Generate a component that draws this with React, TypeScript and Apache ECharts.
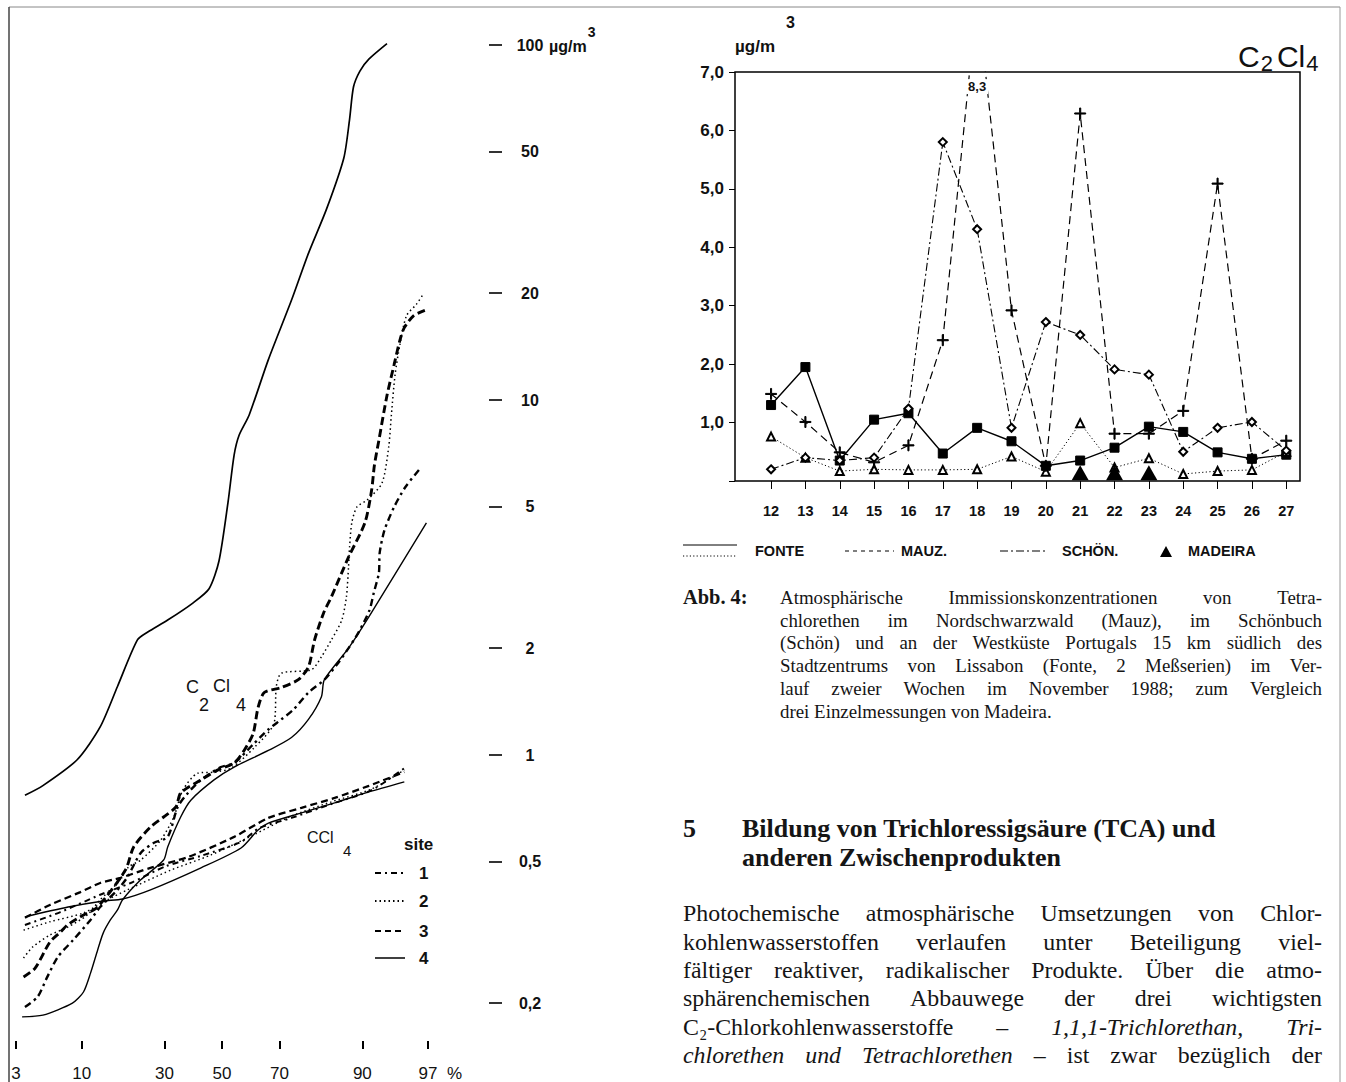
import React, { useEffect, useRef } from "react";
import * as echarts from "echarts";

// ---------- Right chart: C2Cl4 time series (µg/m³) ----------
const DAYS = [12, 13, 14, 15, 16, 17, 18, 19, 20, 21, 22, 23, 24, 25, 26, 27];
const FONTE_1 = [1.3, 1.95, 0.35, 1.05, 1.16, 0.47, 0.91, 0.68, 0.26, 0.35, 0.57, 0.93, 0.84, 0.49, 0.38, 0.45];
const FONTE_2 = [0.76, 0.4, 0.17, 0.2, 0.19, 0.19, 0.2, 0.42, 0.16, 0.99, 0.23, 0.39, 0.12, 0.17, 0.19, 0.5];
const MAUZ = [1.49, 1.01, 0.49, 0.32, 0.61, 2.41, 8.3, 2.92, 0.26, 6.29, 0.81, 0.81, 1.2, 5.09, 0.38, 0.69];
const SCHOEN = [0.2, 0.4, 0.35, 0.4, 1.24, 5.8, 4.31, 0.91, 2.72, 2.5, 1.91, 1.82, 0.5, 0.91, 1.01, 0.52];
const MADEIRA_DAYS = [21, 22, 23];
const MADEIRA = [0.14, 0.14, 0.14];

// ---------- Left chart: cumulative frequency (probability) plot ----------
const PCT_TICKS = [3, 10, 30, 50, 70, 90, 97];
const CONC_TICKS = [0.2, 0.5, 1, 2, 5, 10, 20, 50, 100];

const TOP_P = [3.6, 5.1, 9.3, 13.3, 17.0, 22.0, 24.9, 31.0, 39.5, 45.3, 48.9, 52.2, 54.4, 56.2, 59.8, 66.4, 73.7, 78.5, 83.0, 86.7, 87.8, 88.5, 89.6, 91.0, 93.4];
const TOP_V = [0.77, 0.82, 0.97, 1.2, 1.56, 2.11, 2.22, 2.4, 2.68, 2.94, 3.52, 5.16, 7.0, 7.96, 9.08, 13.0, 19.1, 25.9, 34.5, 48.1, 61.9, 76.2, 84.5, 91.3, 101];

const C2_S1_P = [3.6, 4.6, 5.5, 6.7, 8.7, 11.5, 13.3, 17.0, 19.4, 22.9, 26.6, 31.0, 34.3, 37.8, 42.4, 49.6, 54.4, 61.6, 66.4, 70.6, 74.2, 78.5, 82.5, 85.6, 87.6, 89.4, 91.1, 91.7, 92.4, 92.5, 93.1, 94.2, 95.3, 96.5];
const C2_S1_V = [0.195, 0.208, 0.236, 0.27, 0.301, 0.343, 0.373, 0.417, 0.453, 0.53, 0.565, 0.588, 0.714, 0.782, 0.851, 0.925, 0.949, 1.08, 1.18, 1.26, 1.34, 1.5, 1.63, 1.82, 2.0, 2.22, 2.56, 2.86, 3.26, 3.71, 4.3, 5.0, 5.69, 6.43];

const C2_S2_P = [3.5, 4.2, 5.8, 7.9, 10.9, 13.3, 17.0, 19.7, 22.9, 28.8, 33.0, 36.0, 41.3, 47.1, 53.3, 61.6, 68.3, 69.0, 70.6, 79.3, 81.8, 84.1, 86.3, 87.2, 87.6, 87.8, 88.2, 89.1, 90.7, 92.8, 93.6, 93.9, 94.3, 94.8, 95.4, 96.2, 96.7];
const C2_S2_V = [0.268, 0.288, 0.311, 0.327, 0.354, 0.391, 0.436, 0.484, 0.506, 0.576, 0.669, 0.796, 0.889, 0.895, 0.918, 1.05, 1.23, 1.56, 1.7, 1.74, 1.89, 2.11, 2.4, 2.79, 3.39, 3.86, 4.51, 5.0, 5.22, 5.84, 7.38, 9.08, 11.8, 14.4, 17.3, 18.6, 19.9];

const C2_S3_P = [3.5, 4.4, 5.8, 7.0, 7.9, 10.3, 12.8, 18.9, 21.0, 25.7, 29.7, 33.7, 35.3, 42.4, 48.5, 54.4, 58.0, 61.2, 62.9, 65.0, 70.6, 75.7, 78.5, 80.1, 82.3, 84.1, 87.6, 90.4, 91.4, 91.8, 92.4, 93.4, 94.2, 94.8, 95.2, 96.0, 96.8];
const C2_S3_V = [0.237, 0.251, 0.297, 0.317, 0.332, 0.354, 0.373, 0.474, 0.551, 0.627, 0.669, 0.714, 0.782, 0.851, 0.908, 0.949, 1.03, 1.15, 1.36, 1.5, 1.55, 1.63, 1.77, 2.11, 2.51, 2.79, 3.61, 4.51, 5.57, 6.56, 7.71, 10.3, 12.6, 14.8, 16.0, 17.3, 17.9];

const C2_S4_P = [3.4, 5.1, 8.6, 10.3, 11.5, 12.8, 13.9, 15.4, 17.0, 18.2, 22.9, 29.7, 31.0, 35.3, 38.8, 47.1, 54.4, 66.4, 73.7, 78.5, 81.8, 82.5, 87.6, 91.0, 96.9];
const C2_S4_V = [0.183, 0.185, 0.2, 0.215, 0.243, 0.282, 0.315, 0.343, 0.366, 0.391, 0.445, 0.506, 0.551, 0.669, 0.746, 0.851, 0.925, 1.03, 1.12, 1.26, 1.46, 1.63, 2.0, 2.45, 4.51];

const CC_S1_P = [3.6, 7.0, 13.3, 20.2, 30.4, 42.4, 56.9, 63.2, 73.7, 84.1, 91.4, 95.2];
const CC_S1_V = [0.332, 0.361, 0.404, 0.436, 0.486, 0.52, 0.569, 0.622, 0.665, 0.728, 0.796, 0.918];
const CC_S2_P = [3.5, 5.8, 10.3, 14.8, 19.4, 32.0, 46.0, 60.5, 73.7, 84.1, 91.4, 95.2];
const CC_S2_V = [0.321, 0.339, 0.359, 0.391, 0.417, 0.474, 0.523, 0.591, 0.673, 0.738, 0.802, 0.908];
const CC_S3_P = [3.6, 5.8, 9.8, 13.3, 17.7, 25.7, 37.8, 54.4, 66.4, 76.6, 84.8, 91.0, 95.2];
const CC_S3_V = [0.348, 0.378, 0.411, 0.436, 0.451, 0.481, 0.516, 0.588, 0.665, 0.71, 0.757, 0.819, 0.896];
const CC_S4_P = [3.6, 8.0, 13.9, 18.2, 25.7, 42.4, 56.9, 62.9, 66.4, 76.6, 84.8, 91.0, 95.2];
const CC_S4_V = [0.35, 0.373, 0.388, 0.393, 0.417, 0.481, 0.547, 0.615, 0.643, 0.687, 0.733, 0.787, 0.84];

// ---------- Texts ----------
const CAPTION_LABEL = "Abb. 4:";
const CAPTION_LINES = [
  "Atmosphärische Immissionskonzentrationen von Tetra-",
  "chlorethen im Nordschwarzwald (Mauz), im Schönbuch",
  "(Schön) und an der Westküste Portugals 15 km südlich des",
  "Stadtzentrums von Lissabon (Fonte, 2 Meßserien) im Ver-",
  "lauf zweier Wochen im November 1988; zum Vergleich",
  "drei Einzelmessungen von Madeira.",
];
const HEADING_NUM = "5";
const HEADING_LINES = ["Bildung von Trichloressigsäure (TCA) und", "anderen Zwischenprodukten"];
type Seg = { t: string; i?: boolean };
const PARA_LINES: Seg[][] = [
  [{ t: "Photochemische atmosphärische Umsetzungen von Chlor-" }],
  [{ t: "kohlenwasserstoffen verlaufen unter Beteiligung viel-" }],
  [{ t: "fältiger reaktiver, radikalischer Produkte. Über die atmo-" }],
  [{ t: "sphärenchemischen Abbauwege der drei wichtigsten" }],
  [{ t: "C₂-Chlorkohlenwasserstoffe –" }, { t: "1,1,1-Trichlorethan, Tri-", i: true }],
  [{ t: "chlorethen und Tetrachlorethen", i: true }, { t: "– ist zwar bezüglich der" }],
];

// inverse standard normal CDF (Acklam)
function probit(p: number): number {
  const a = [-39.69683028665376, 220.9460984245205, -275.9285104469687, 138.357751867269, -30.66479806614716, 2.506628277459239];
  const b = [-54.47609879822406, 161.5858368580409, -155.6989798598866, 66.80131188771972, -13.28068155288572];
  const c = [-0.007784894002430293, -0.3223964580411365, -2.400758277161838, -2.549732539343734, 4.374664141464968, 2.938163982698783];
  const d = [0.007784695709041462, 0.3224671290700398, 2.445134137142996, 3.754408661907416];
  const pl = 0.02425;
  let q: number, r: number;
  if (p < pl) {
    q = Math.sqrt(-2 * Math.log(p));
    return (((((c[0] * q + c[1]) * q + c[2]) * q + c[3]) * q + c[4]) * q + c[5]) / ((((d[0] * q + d[1]) * q + d[2]) * q + d[3]) * q + 1);
  }
  if (p <= 1 - pl) {
    q = p - 0.5;
    r = q * q;
    return ((((((a[0] * r + a[1]) * r + a[2]) * r + a[3]) * r + a[4]) * r + a[5]) * q) / (((((b[0] * r + b[1]) * r + b[2]) * r + b[3]) * r + b[4]) * r + 1);
  }
  q = Math.sqrt(-2 * Math.log(1 - p));
  return -(((((c[0] * q + c[1]) * q + c[2]) * q + c[3]) * q + c[4]) * q + c[5]) / ((((d[0] * q + d[1]) * q + d[2]) * q + d[3]) * q + 1);
}

const SANS = "Liberation Sans";
const SERIF = "Liberation Serif";

function buildOption() {
  const canvas = document.createElement("canvas");
  const ctx = canvas.getContext("2d")!;
  const mw = (t: string, size: number, family: string, weight = "normal", style = "normal") => {
    ctx.font = `${style} ${weight} ${size}px "${family}"`;
    return ctx.measureText(t).width;
  };

  const g: any[] = [];
  const text = (x: number, y: number, t: string, o: any = {}) =>
    g.push({
      type: "text",
      x,
      y,
      silent: true,
      style: {
        text: t,
        fontFamily: o.family || SANS,
        fontSize: o.size || 14,
        fontWeight: o.weight || "normal",
        fontStyle: o.style || "normal",
        fill: o.fill || "#111",
        align: o.align || "left",
        verticalAlign: "middle",
      },
    });
  const line = (x1: number, y1: number, x2: number, y2: number, o: any = {}) =>
    g.push({
      type: "line",
      silent: true,
      shape: { x1, y1, x2, y2 },
      style: { stroke: o.stroke || "#000", lineWidth: o.w || 1, lineDash: o.dash || null },
    });

  // page frame
  line(9, 7, 1340, 7, { stroke: "#888", w: 1 });
  line(9, 7, 9, 1082, { stroke: "#444", w: 1.5 });
  line(1340, 7, 1340, 1082, { stroke: "#999", w: 1 });

  // justified text helper
  const justify = (segs: Seg[], x0: number, x1: number, y: number, size: number, weight: string, just: boolean) => {
    const words: { t: string; i: boolean; w: number }[] = [];
    segs.forEach((s) =>
      s.t
        .split(" ")
        .filter((w) => w.length)
        .forEach((w) => words.push({ t: w, i: !!s.i, w: mw(w, size, SERIF, weight, s.i ? "italic" : "normal") }))
    );
    const total = words.reduce((a, w) => a + w.w, 0);
    const sp = mw(" ", size, SERIF, weight);
    const gap = just && words.length > 1 ? (x1 - x0 - total) / (words.length - 1) : sp;
    let x = x0;
    words.forEach((w) => {
      text(x, y, w.t, { family: SERIF, size, weight, style: w.i ? "italic" : "normal", fill: "#151515" });
      x += w.w + gap;
    });
  };
  const fitSize = (lines: string[], target: number, cap: number, weight = "normal") => {
    let s = cap;
    lines.forEach((l) => {
      const w100 = mw(l, 100, SERIF, weight);
      s = Math.min(s, (target * 100) / w100);
    });
    return s * 0.995;
  };

  // caption
  const capSize = fitSize(CAPTION_LINES.slice(0, 5), 1322 - 780, 19);
  const capY = [597, 620, 642, 665, 688, 711];
  text(683, capY[0], CAPTION_LABEL, { family: SERIF, size: capSize + 1.5, weight: "bold", fill: "#151515" });
  CAPTION_LINES.forEach((l, i) => justify([{ t: l }], 780, 1322, capY[i], capSize, "normal", i < 5));

  // heading
  const headSize = Math.min(26, (495 * 100) / mw(HEADING_LINES[0], 100, SERIF, "bold"));
  text(683, 828, HEADING_NUM, { family: SERIF, size: headSize, weight: "bold", fill: "#151515" });
  HEADING_LINES.forEach((l, i) => text(742, 828 + i * 29, l, { family: SERIF, size: headSize, weight: "bold", fill: "#151515" }));

  // paragraph
  const paraSize = fitSize(PARA_LINES.map((l) => l.map((s) => s.t).join(" ")), 1322 - 683, 24);
  const paraY = [913, 942, 970, 998, 1027, 1055];
  PARA_LINES.forEach((l, i) => justify(l, 683, 1322, paraY[i], paraSize, "normal", true));

  // right chart unit and title
  text(735, 46, "µg/m", { size: 17, weight: "bold" });
  text(786, 22, "3", { size: 16, weight: "bold" });
  {
    let x = 1238;
    text(x, 56, "C", { size: 30 });
    x += mw("C", 30, SANS) + 1;
    text(x, 63, "2", { size: 22 });
    x += mw("2", 22, SANS) + 4;
    text(x, 56, "Cl", { size: 30 });
    x += mw("Cl", 30, SANS) + 1;
    text(x, 63, "4", { size: 22 });
  }

  // right legend
  line(683, 545, 737, 545, { w: 1 });
  line(683, 556, 737, 556, { w: 1, dash: [1.2, 2.2] });
  text(755, 551, "FONTE", { size: 14.5, weight: "bold" });
  line(845, 551, 894, 551, { w: 1.2, dash: [4, 4] });
  text(901, 551, "MAUZ.", { size: 14.5, weight: "bold" });
  line(1000, 551, 1046, 551, { w: 1.2, dash: [8, 3, 2, 3] });
  text(1062, 551, "SCHÖN.", { size: 14.5, weight: "bold" });
  g.push({ type: "polygon", silent: true, shape: { points: [[1160, 557], [1172, 557], [1166, 546]] }, style: { fill: "#000" } });
  text(1188, 551, "MADEIRA", { size: 14.5, weight: "bold" });

  // left chart unit
  const unitW = mw("µg/m", 16, SANS, "bold");
  text(549, 46, "µg/m", { size: 16, weight: "bold" });
  text(549 + unitW + 1, 32, "3", { size: 14, weight: "bold" });
  text(447, 1073, "%", { size: 17 });

  // left chart curve labels
  text(186, 687, "C", { size: 18 });
  text(199, 705, "2", { size: 18 });
  text(213, 686, "Cl", { size: 18 });
  text(236, 705, "4", { size: 18 });
  text(307, 837, "CCl", { size: 16 });
  text(343, 850, "4", { size: 15 });

  // left legend
  text(404, 844, "site", { size: 17, weight: "bold" });
  const legY = [873, 901, 931, 958];
  const legStyles = [
    { w: 2, dash: [6, 4, 2, 4] },
    { w: 1.8, dash: [1.5, 3] },
    { w: 2.2, dash: [6, 4] },
    { w: 1.5 },
  ];
  legY.forEach((y, i) => {
    line(375, y, 405, y, legStyles[i]);
    text(419, y, String(i + 1), { size: 17, weight: "bold" });
  });

  const zMin = probit(PCT_TICKS[0] / 100);
  const zMax = probit(PCT_TICKS[PCT_TICKS.length - 1] / 100);
  const zTicks = PCT_TICKS.map((p) => probit(p / 100));
  const logTicks = CONC_TICKS.map((c) => Math.log10(c));

  const leftLine = (name: string, P: number[], V: number[], ls: any) => ({
    type: "line",
    name,
    xAxisIndex: 0,
    yAxisIndex: 0,
    data: P.map((p, i) => [probit(p / 100), Math.log10(V[i])]),
    symbol: "none",
    smooth: 0.25,
    silent: true,
    lineStyle: { color: "#000", ...ls },
  });

  const rightLine = (name: string, vals: number[], ls: any, sym: any) => ({
    type: "line",
    name,
    xAxisIndex: 1,
    yAxisIndex: 1,
    data: DAYS.map((d, i) => [d, vals[i]]),
    silent: true,
    lineStyle: { color: "#000", ...ls },
    itemStyle: { color: "#000", borderColor: "#000", borderWidth: 1, opacity: 1 },
    ...sym,
  });

  const plusPath = "path://M4.5,0h1v4.5h4.5v1h-4.5v4.5h-1v-4.5h-4.5v-1h4.5z";

  return {
    animation: false,
    backgroundColor: "#fff",
    grid: [
      { left: 16, top: 38, width: 412, height: 1001, show: false },
      { left: 735, top: 72, width: 565, height: 409, show: true, borderColor: "#000", borderWidth: 1.5, backgroundColor: "transparent" },
    ],
    xAxis: [
      {
        type: "value",
        gridIndex: 0,
        min: zMin,
        max: zMax,
        offset: 2,
        axisLine: { show: false, onZero: false },
        splitLine: { show: false },
        axisTick: { show: true, customValues: zTicks, length: 8, lineStyle: { color: "#000", width: 2 } },
        axisLabel: {
          customValues: zTicks,
          margin: 24,
          color: "#111",
          fontFamily: SANS,
          fontSize: 17,
          formatter: (v: number) => {
            const i = zTicks.findIndex((z) => Math.abs(z - v) < 1e-6);
            return i >= 0 ? String(PCT_TICKS[i]) : "";
          },
        },
      },
      {
        type: "value",
        gridIndex: 1,
        min: 10.95,
        max: 27.4,
        axisLine: { show: false, onZero: false },
        splitLine: { show: false },
        axisTick: { show: true, customValues: DAYS, length: 8, lineStyle: { color: "#000", width: 1 } },
        axisLabel: {
          customValues: DAYS,
          margin: 22,
          color: "#111",
          fontFamily: SANS,
          fontWeight: "bold",
          fontSize: 14.5,
          formatter: (v: number) => String(v),
        },
      },
    ],
    yAxis: [
      {
        type: "value",
        gridIndex: 0,
        min: -0.8,
        max: 2.02,
        position: "right",
        offset: 61,
        axisLine: { show: false, onZero: false },
        splitLine: { show: false },
        axisTick: { show: true, customValues: logTicks, length: 13, lineStyle: { color: "#000", width: 1.6 } },
        axisLabel: {
          customValues: logTicks,
          margin: 41,
          align: "center",
          color: "#111",
          fontFamily: SANS,
          fontWeight: "bold",
          fontSize: 16,
          formatter: (v: number) => {
            const i = logTicks.findIndex((t) => Math.abs(t - v) < 1e-6);
            return i >= 0 ? String(CONC_TICKS[i]).replace(".", ",") : "";
          },
        },
      },
      {
        type: "value",
        gridIndex: 1,
        min: 0,
        max: 7,
        interval: 1,
        axisLine: { show: false, onZero: false },
        splitLine: { show: false },
        axisTick: { show: true, length: 6, lineStyle: { color: "#000", width: 1 } },
        axisLabel: {
          margin: 11,
          color: "#111",
          fontFamily: SANS,
          fontWeight: "bold",
          fontSize: 17,
          formatter: (v: number) => (v === 0 ? "" : v.toFixed(1).replace(".", ",")),
        },
      },
    ],
    graphic: g,
    series: [
      leftLine("upper", TOP_P, TOP_V, { width: 1.7 }),
      leftLine("C2Cl4 site 4", C2_S4_P, C2_S4_V, { width: 1.4 }),
      leftLine("C2Cl4 site 1", C2_S1_P, C2_S1_V, { width: 2.4, type: [7, 4, 2.5, 4] }),
      leftLine("C2Cl4 site 2", C2_S2_P, C2_S2_V, { width: 1.5, type: [1.5, 3] }),
      leftLine("C2Cl4 site 3", C2_S3_P, C2_S3_V, { width: 2.9, type: [8, 4] }),
      leftLine("CCl4 site 4", CC_S4_P, CC_S4_V, { width: 1.4 }),
      leftLine("CCl4 site 1", CC_S1_P, CC_S1_V, { width: 2.0, type: [6, 4, 2, 4] }),
      leftLine("CCl4 site 2", CC_S2_P, CC_S2_V, { width: 1.4, type: [1.5, 3] }),
      leftLine("CCl4 site 3", CC_S3_P, CC_S3_V, { width: 2.3, type: [7, 4] }),

      rightLine("FONTE", FONTE_1, { width: 1.4 }, { symbol: "rect", symbolSize: 9 }),
      rightLine("FONTE (2)", FONTE_2, { width: 1, type: [1.2, 2.4] }, { symbol: "emptyTriangle", symbolSize: 8 }),
      {
        ...rightLine("MAUZ.", MAUZ, { width: 1.2, type: [8, 5] }, { symbol: plusPath, symbolSize: 11, symbolKeepAspect: true }),
        markPoint: {
          symbol: "circle",
          symbolSize: 1,
          itemStyle: { color: "rgba(0,0,0,0)" },
          data: [{ coord: [DAYS[6], 6.75], value: MAUZ[6] }],
          label: {
            show: true,
            position: "inside",
            formatter: (p: any) => String(p.value).replace(".", ","),
            color: "#111",
            backgroundColor: "#fff",
            padding: [1, 2],
            fontFamily: SANS,
            fontWeight: "bold",
            fontSize: 13,
          },
        },
      },
      rightLine("SCHÖN.", SCHOEN, { width: 1.1, type: [8, 3, 2, 3] }, { symbol: "emptyDiamond", symbolSize: 8 }),
      {
        type: "scatter",
        name: "MADEIRA",
        xAxisIndex: 1,
        yAxisIndex: 1,
        data: MADEIRA_DAYS.map((d, i) => [d, MADEIRA[i]]),
        symbol: "triangle",
        symbolSize: [17, 15],
        itemStyle: { color: "#000", opacity: 1 },
        silent: true,
        z: 5,
      },
    ],
  };
}

export default function App() {
  const ref = useRef<HTMLDivElement>(null);
  useEffect(() => {
    document.body.style.margin = "0";
    document.body.style.overflow = "hidden";
    const chart = echarts.init(ref.current!, null, { renderer: "svg" });
    chart.setOption(buildOption() as any);
    return () => chart.dispose();
  }, []);
  return <div ref={ref} style={{ width: 1346, height: 1082 }} />;
}
